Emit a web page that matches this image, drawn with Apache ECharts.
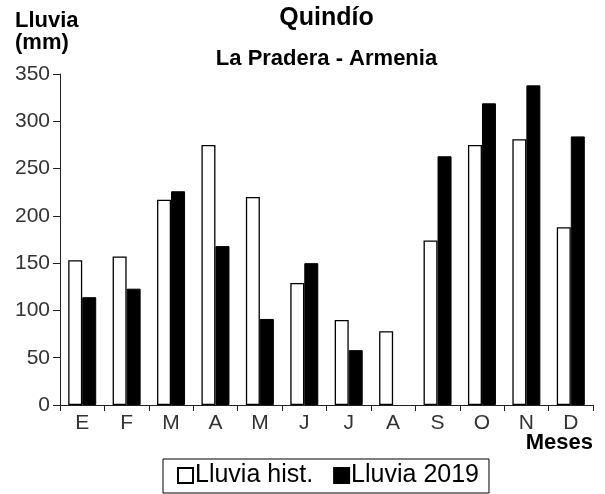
<!DOCTYPE html>
<html>
<head>
<meta charset="utf-8">
<script src="https://cdn.jsdelivr.net/npm/echarts@6/dist/echarts.min.js"></script>
<style>
  html, body { margin: 0; padding: 0; background: #fff; }
  #diagram { width: 605px; height: 494px; }
</style>
</head>
<body>
<div id="diagram"></div>
<script>
// datos
var meses = ['E', 'F', 'M', 'A', 'M', 'J', 'J', 'A', 'S', 'O', 'N', 'D'];
var lluviaHist = [153, 157, 217, 275, 220, 129, 90, 78, 174, 275, 281, 188];
var lluvia2019 = [114, 123, 226, 168, 91, 150, 58, null, 263, 319, 338, 284];
var ticksY = [0, 50, 100, 150, 200, 250, 300, 350];

var fuente = 'Liberation Sans, Arial, sans-serif';

var myChart = echarts.init(document.getElementById('diagram'));

var option = {
    animation: false,
    backgroundColor: '#fff',
    title: [
        { text: 'Quindío', left: 326.5, top: 6, textAlign: 'center', padding: 0,
          textStyle: { fontFamily: fuente, fontSize: 25, fontWeight: 'bold', color: '#000' } },
        { text: 'La Pradera - Armenia', left: 326.5, top: 48, textAlign: 'center', padding: 0,
          textStyle: { fontFamily: fuente, fontSize: 22, fontWeight: 'bold', color: '#000' } },
        { text: 'Lluvia\n(mm)', left: 15, top: 10, padding: 0,
          textStyle: { fontFamily: fuente, fontSize: 22, fontWeight: 'bold', color: '#000', lineHeight: 22 } },
        { text: 'Meses', right: 12, top: 432, padding: 0,
          textStyle: { fontFamily: fuente, fontSize: 22, fontWeight: 'bold', color: '#000' } }
    ],
    legend: {
        data: ['Lluvia hist.', 'Lluvia 2019'],
        left: 163,
        top: 459,
        borderColor: '#000',
        borderWidth: 1,
        borderRadius: 0,
        padding: [4, 10, 5, 14],
        itemWidth: 15,
        itemHeight: 15,
        itemGap: 20,
        icon: 'rect',
        textStyle: { fontFamily: fuente, fontSize: 25, color: '#000', padding: [0, 0, 0, -3] }
    },
    grid: { left: 60, right: 12, top: 74, bottom: 89 },
    xAxis: {
        type: 'category',
        data: meses,
        axisLine: { lineStyle: { color: '#222', width: 1 } },
        axisTick: { show: true, length: 6, lineStyle: { color: '#222' } },
        axisLabel: { fontFamily: fuente, fontSize: 21, color: '#333', margin: 8 }
    },
    yAxis: {
        type: 'value',
        min: 0,
        max: 350,
        interval: 50,
        axisLine: { show: true, lineStyle: { color: '#222', width: 1 } },
        axisTick: { show: true, length: 7, lineStyle: { color: '#222' } },
        splitLine: { show: false },
        axisLabel: {
            fontFamily: fuente, fontSize: 21, color: '#333', margin: 10,
            formatter: function (v) { return ticksY.indexOf(v) >= 0 ? String(v) : ''; }
        }
    },
    series: [
        {
            name: 'Lluvia hist.',
            type: 'bar',
            data: lluviaHist,
            barWidth: 14,
            barGap: '0%',
            itemStyle: { color: '#fff', borderColor: '#000', borderWidth: 1.3 }
        },
        {
            name: 'Lluvia 2019',
            type: 'bar',
            data: lluvia2019,
            barWidth: 14,
            itemStyle: { color: '#000', borderColor: '#000', borderWidth: 1 }
        }
    ]
};

myChart.setOption(option);
</script>
</body>
</html>
